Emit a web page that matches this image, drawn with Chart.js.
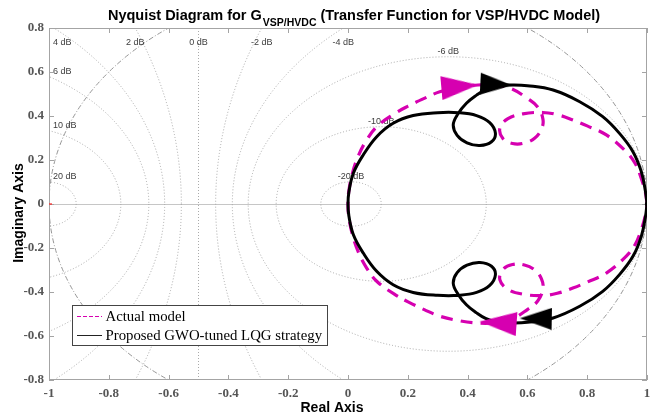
<!DOCTYPE html>
<html lang="en">
<head>
<meta charset="UTF-8">
<title>Nyquist Diagram for G VSP/HVDC</title>
<script src="https://cdn.jsdelivr.net/npm/chart.js@4.4.0/dist/chart.umd.min.js"></script>
<style>
  html, body { margin: 0; padding: 0; background: #fff; }
  #wrap { width: 660px; height: 418px; }
</style>
</head>
<body>
<div id="wrap"><canvas id="nyq" width="660" height="418"></canvas></div>
<script>
// Upper half of each locus (w > 0), going from (1,0) round to the origin.
// The lower half is the complex conjugate.
const gwoRe = [1.0, 0.995, 0.981, 0.953, 0.908, 0.852, 0.775, 0.686, 0.6, 0.547, 0.5, 0.46, 0.43, 0.396, 0.368, 0.352, 0.365, 0.398, 0.441, 0.48, 0.493, 0.474, 0.43, 0.37, 0.3, 0.218, 0.151, 0.096, 0.051, 0.018, 0.003, 0.0];
const gwoIm = [0, 0.056, 0.147, 0.238, 0.321, 0.397, 0.465, 0.518, 0.538, 0.541, 0.538, 0.52, 0.495, 0.458, 0.41, 0.36, 0.312, 0.278, 0.266, 0.283, 0.322, 0.37, 0.402, 0.415, 0.415, 0.402, 0.367, 0.306, 0.223, 0.14, 0.055, 0];

const actRe = [1.0, 0.995, 0.98, 0.96, 0.93, 0.864, 0.8, 0.752, 0.7, 0.652, 0.585, 0.535, 0.508, 0.518, 0.55, 0.59, 0.625, 0.647, 0.652, 0.635, 0.6, 0.545, 0.49, 0.435, 0.37, 0.307, 0.255, 0.201, 0.155, 0.096, 0.062, 0.035, 0.015, 0.003, 0.0];
const actIm = [0, 0.05, 0.12, 0.185, 0.238, 0.314, 0.355, 0.382, 0.406, 0.416, 0.41, 0.388, 0.345, 0.298, 0.275, 0.277, 0.3, 0.34, 0.385, 0.44, 0.48, 0.525, 0.54, 0.541, 0.53, 0.51, 0.48, 0.445, 0.41, 0.351, 0.29, 0.22, 0.14, 0.06, 0];

// direction arrows (centre of the head, heading in degrees, clockwise on screen)
const actArrowRe = [0.374, 0.502];
const actArrowIm = [0.534, -0.54];
const actArrowDeg = [-5, 184];
const gwoArrowRe = [0.496, 0.628];
const gwoArrowIm = [0.543, -0.521];
const gwoArrowDeg = [3, 181];

// critical point
const critRe = [-1];
const critIm = [0];

const xTicks = [-1, -0.8, -0.6, -0.4, -0.2, 0, 0.2, 0.4, 0.6, 0.8, 1];
const yTicks = [-0.8, -0.6, -0.4, -0.2, 0, 0.2, 0.4, 0.6, 0.8];
const mCircleDb = [-20, -10, -6, -4, -2, 0, 2, 4, 6, 10, 20];

const seriesNames = ['Actual model', 'Proposed GWO-tuned LQG strategy'];

const MAG = '#d600b0';
const AXIS = '#a4a4a4';

function toPts(re, im) {
  return re.map((r, i) => ({ x: r, y: im[i] }));
}
// full contour: upper half then its mirror image back to (1,0)
function fullLocus(re, im) {
  const up = toPts(re, im);
  const low = up.slice(0, -1).reverse().map(p => ({ x: p.x, y: -p.y }));
  return up.concat(low);
}
function arrowHead(len, wid, color) {
  const c = document.createElement('canvas');
  c.width = len; c.height = wid;
  const g = c.getContext('2d');
  g.fillStyle = color;
  g.beginPath();
  g.moveTo(0, 0); g.lineTo(len, wid / 2); g.lineTo(0, wid);
  g.closePath(); g.fill();
  return c;
}
const fmtTick = v => String(Math.round(v * 10) / 10);

// M-circles, real axis and unit circle behind the curves
const nyqGrid = {
  id: 'nyqGrid',
  beforeDatasetsDraw(chart) {
    const { ctx, chartArea: a, scales: { x, y } } = chart;
    const y0 = y.getPixelForValue(0);
    ctx.save();
    ctx.beginPath();
    ctx.rect(a.left, a.top, a.right - a.left, a.bottom - a.top);
    ctx.clip();

    ctx.strokeStyle = '#c6c6c6';
    ctx.lineWidth = 1;
    ctx.beginPath();
    ctx.moveTo(a.left, y0 + 0.5); ctx.lineTo(a.right, y0 + 0.5);
    ctx.stroke();

    ctx.strokeStyle = '#a0a0a0';
    ctx.lineWidth = 0.9;
    ctx.setLineDash([1, 2]);
    mCircleDb.forEach(db => {
      const m2 = Math.pow(10, db / 10);
      ctx.beginPath();
      if (db === 0) {
        const px = x.getPixelForValue(-0.5);
        ctx.moveTo(px, a.top); ctx.lineTo(px, a.bottom);
      } else {
        const c = -m2 / (m2 - 1), r = Math.abs(Math.sqrt(m2) / (m2 - 1));
        const cx = x.getPixelForValue(c);
        ctx.ellipse(cx, y0, Math.abs(x.getPixelForValue(c + r) - cx),
          Math.abs(y.getPixelForValue(r) - y0), 0, 0, 2 * Math.PI);
      }
      ctx.stroke();
    });

    ctx.strokeStyle = '#8a8a8a';
    ctx.setLineDash([5, 2, 1, 2]);
    ctx.beginPath();
    ctx.ellipse(x.getPixelForValue(0), y0, x.getPixelForValue(1) - x.getPixelForValue(0),
      y0 - y.getPixelForValue(1), 0, 0, 2 * Math.PI);
    ctx.stroke();
    ctx.restore();

    // dB labels
    ctx.save();
    ctx.font = '9px "Liberation Sans", Arial, sans-serif';
    ctx.fillStyle = '#3c3c3c';
    ctx.textAlign = 'center';
    ctx.textBaseline = 'middle';
    const xMin = x.min, yMax = y.max;
    mCircleDb.forEach(db => {
      const m2 = Math.pow(10, db / 10);
      let lx, ly, atTop = false;
      if (db === 0) { lx = -0.5; atTop = true; }
      else {
        const c = -m2 / (m2 - 1), r = Math.abs(Math.sqrt(m2) / (m2 - 1));
        if (r <= yMax) { lx = c; ly = r; }
        else { lx = c + (c < 0 ? 1 : -1) * Math.sqrt(r * r - yMax * yMax); atTop = true; }
        if (lx < xMin) { lx = xMin; ly = Math.sqrt(r * r - (xMin - c) * (xMin - c)); atTop = false; }
      }
      const txt = db + ' dB';
      const w = ctx.measureText(txt).width;
      let px = x.getPixelForValue(lx);
      px = Math.max(px, a.left + 4 + w / 2);
      const py = atTop ? a.top + 15 : y.getPixelForValue(ly) - 5;
      ctx.fillText(txt, px, py);
    });
    ctx.restore();

    // frame with inward ticks
    ctx.save();
    ctx.strokeStyle = AXIS;
    ctx.lineWidth = 1;
    ctx.strokeRect(a.left + 0.5, a.top + 0.5, a.right - a.left - 1, a.bottom - a.top - 1);
    ctx.beginPath();
    xTicks.forEach(v => {
      const px = Math.round(x.getPixelForValue(v)) + 0.5;
      ctx.moveTo(px, a.bottom); ctx.lineTo(px, a.bottom - 5);
      ctx.moveTo(px, a.top); ctx.lineTo(px, a.top + 5);
    });
    yTicks.forEach(v => {
      const py = Math.round(y.getPixelForValue(v)) + 0.5;
      ctx.moveTo(a.left, py); ctx.lineTo(a.left + 5, py);
      ctx.moveTo(a.right, py); ctx.lineTo(a.right - 5, py);
    });
    ctx.stroke();
    ctx.restore();
  }
};

// title, axis titles and legend
const nyqDecor = {
  id: 'nyqDecor',
  afterDraw(chart) {
    const { ctx } = chart;
    ctx.save();
    ctx.fillStyle = '#000';
    ctx.textBaseline = 'alphabetic';
    const f1 = 'bold 14.5px "Liberation Sans", Arial, sans-serif';
    const fs = 'bold 10.5px "Liberation Sans", Arial, sans-serif';
    const p1 = 'Nyquist Diagram for G', sub = 'VSP/HVDC', p2 = ' (Transfer Function for VSP/HVDC Model)';
    ctx.font = f1; const w1 = ctx.measureText(p1).width, w2 = ctx.measureText(p2).width;
    ctx.font = fs; const ws = ctx.measureText(sub).width;
    let tx = 354 - (w1 + ws + w2 + 1) / 2;
    ctx.textAlign = 'left';
    ctx.font = f1; ctx.fillText(p1, tx, 20); tx += w1 + 1;
    ctx.font = fs; ctx.fillText(sub, tx, 26); tx += ws;
    ctx.font = f1; ctx.fillText(p2, tx, 20);

    ctx.font = 'bold 14px "Liberation Sans", Arial, sans-serif';
    ctx.textAlign = 'center';
    ctx.textBaseline = 'middle';
    ctx.fillText('Real Axis', 332, 408);
    ctx.translate(19, 213);
    ctx.rotate(-Math.PI / 2);
    ctx.fillText('Imaginary Axis', 0, 0);
    ctx.restore();

    // legend box
    ctx.save();
    ctx.fillStyle = '#fff';
    ctx.strokeStyle = '#444';
    ctx.lineWidth = 1;
    ctx.fillRect(72.5, 305.5, 255, 40);
    ctx.strokeRect(72.5, 305.5, 255, 40);
    const rows = [{ c: MAG, dash: [4, 2], y: 316.5 }, { c: '#222', dash: [], y: 335.5 }];
    rows.forEach((r, i) => {
      ctx.strokeStyle = r.c;
      ctx.setLineDash(r.dash);
      ctx.beginPath(); ctx.moveTo(77, r.y); ctx.lineTo(102, r.y); ctx.stroke();
      ctx.setLineDash([]);
      ctx.fillStyle = '#000';
      ctx.font = '14.8px "Liberation Serif", "Times New Roman", serif';
      ctx.textAlign = 'left';
      ctx.textBaseline = 'middle';
      ctx.fillText(seriesNames[i], 105.5, r.y + 0.5);
    });
    ctx.restore();
  }
};

const tickFont = { family: '"Liberation Serif", "Times New Roman", serif', size: 13, weight: 'bold' };

new Chart(document.getElementById('nyq'), {
  type: 'scatter',
  data: {
    datasets: [
      {
        label: 'crit', data: toPts(critRe, critIm), order: 0,
        pointStyle: 'line', pointRadius: 3, borderColor: '#ff2020', borderWidth: 1.2
      },
      {
        label: 'gwoArrows', data: toPts(gwoArrowRe, gwoArrowIm), order: 1,
        pointStyle: arrowHead(32, 22, '#000'), pointRadius: 12,
        pointRotation: ctx => gwoArrowDeg[ctx.dataIndex]
      },
      {
        label: 'actArrows', data: toPts(actArrowRe, actArrowIm), order: 2,
        pointStyle: arrowHead(37, 24, MAG), pointRadius: 12,
        pointRotation: ctx => actArrowDeg[ctx.dataIndex]
      },
      {
        label: 'gwoStart', data: toPts(gwoRe.slice(0, 1), gwoIm.slice(0, 1)), order: 3,
        pointRadius: 2.2, backgroundColor: '#000', borderWidth: 0
      },
      {
        label: seriesNames[1], data: fullLocus(gwoRe, gwoIm), order: 4,
        showLine: true, tension: 0.4, pointRadius: 0,
        borderColor: '#000', borderWidth: 3, fill: false
      },
      {
        label: seriesNames[0], data: fullLocus(actRe, actIm), order: 5,
        showLine: true, tension: 0.4, pointRadius: 0,
        borderColor: MAG, borderWidth: 3.2, borderDash: [12, 8], fill: false
      }
    ]
  },
  options: {
    responsive: false,
    animation: false,
    events: [],
    layout: { padding: { top: 28, right: 12, left: 0, bottom: 0 } },
    plugins: { legend: { display: false }, tooltip: { enabled: false }, title: { display: false } },
    scales: {
      x: {
        type: 'linear', min: -1, max: 1,
        afterBuildTicks: s => { s.ticks = xTicks.map(v => ({ value: v })); },
        afterFit: s => { s.height = 38; },
        grid: { display: false, drawTicks: false },
        border: { display: false },
        ticks: { padding: 6, color: '#555', font: tickFont, maxRotation: 0, autoSkip: false, callback: fmtTick }
      },
      y: {
        type: 'linear', min: -0.8, max: 0.8,
        afterBuildTicks: s => { s.ticks = yTicks.map(v => ({ value: v })); },
        afterFit: s => { s.width = 49; },
        grid: { display: false, drawTicks: false },
        border: { display: false },
        ticks: { padding: 5, color: '#555', font: tickFont, autoSkip: false, callback: fmtTick }
      }
    }
  },
  plugins: [nyqGrid, nyqDecor]
});
</script>
</body>
</html>
